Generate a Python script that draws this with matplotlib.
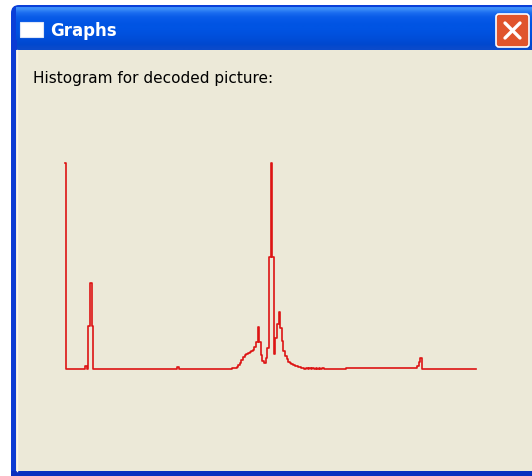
#!/usr/bin/env python3
"""
Histogram window recreation: XP-style "Graphs" window with a 256-bin histogram.
"""
import numpy as np
import matplotlib
matplotlib.use('Agg')
import matplotlib.pyplot as plt
from matplotlib.patches import Rectangle, FancyBboxPatch

# Histogram data: non-zero bins (grey level) and heights (relative counts)
n_bins = 256
peak_bins = [0, 13, 15, 16, 17, 70,
             104, 105, 106, 107, 108, 109, 110, 111, 112, 113, 114, 115, 116,
             117, 118, 119, 120, 121, 122, 123, 124, 125, 126, 127, 128, 129,
             130, 131, 132, 133, 134, 135, 136, 137, 138, 139, 140, 141, 142,
             143, 144, 145, 146, 147, 148, 150, 152, 154, 156, 158, 160,
             219, 220, 221]
peak_vals = [206, 3, 43, 86, 43, 2,
             1, 1, 1, 2, 4, 6, 9, 12, 14, 15, 16, 17, 18,
             19, 22, 27, 42, 27, 14, 8, 6, 11, 21, 112, 206, 112,
             15, 31, 45, 57, 41, 28, 18, 13, 10, 7, 6, 5, 4,
             3, 3, 2, 2, 1, 1, 1, 1, 1, 1, 1, 1,
             3, 7, 11]
# low plateau of very small counts in the upper range
low_bins = list(range(175, 219))
low_vals = [0.5] * len(low_bins)

title = 'Graphs'
label = 'Histogram for decoded picture:'

W, H = 532, 476
fig = plt.figure(figsize=(W / 100, H / 100), dpi=100)
fig.patch.set_facecolor('white')

# chrome axes in pixel coordinates
bg = fig.add_axes([0, 0, 1, 1])
bg.set_xlim(0, W)
bg.set_ylim(H, 0)
bg.axis('off')

# window frame (blue) with rounded top
bg.add_patch(FancyBboxPatch((14, 8), 540, 480, boxstyle='round,pad=3,rounding_size=8',
                            fc='#0A3FD8', ec='none'))
# title bar gradient
grad = np.array(['#3C8EF8', '#1A6CF0', '#0A5CE8', '#0457E6', '#0054E3', '#0054E3',
                 '#0052E0', '#004FDB', '#004CD6', '#0048CF', '#0A4ACB'])
rgb = np.array([matplotlib.colors.to_rgb(c) for c in grad])[:, None, :]
bg.imshow(rgb, extent=[16, 540, 50, 7], aspect='auto', interpolation='bilinear', zorder=1)
# side and bottom borders
bg.add_patch(Rectangle((11, 40), 6, 436, fc='#0B3BD3', ec='none', zorder=2))
bg.add_patch(Rectangle((11, 471), 540, 6, fc='#0A2FBF', ec='none', zorder=2))
# client area
bg.add_patch(Rectangle((16, 50), 530, 421, fc='#ECE9D8', ec='none', zorder=3))
bg.plot([17, 17], [50, 471], color='#F6F4EC', lw=1, zorder=3)

# title icon and text
bg.add_patch(Rectangle((20, 22), 23, 15, fc='white', ec='#DDE6F8', lw=0.8, zorder=4))
bg.text(50, 31, title, color='white', fontsize=12, fontweight='bold',
        va='center', ha='left', zorder=5)

# close button
bg.add_patch(FancyBboxPatch((497, 15), 31, 31, boxstyle='round,pad=1,rounding_size=3',
                            fc='#E0542C', ec='white', lw=1.2, zorder=4))
bg.plot([505, 520], [23, 38], color='white', lw=2.4, zorder=5, solid_capstyle='round')
bg.plot([505, 520], [38, 23], color='white', lw=2.4, zorder=5, solid_capstyle='round')

# caption, scaled to span the same width as the original label
t = bg.text(33, 78, label, color='black', fontsize=10, va='center', ha='left', zorder=5)
fig.canvas.draw()
w = t.get_window_extent().width
t.set_fontsize(10 * 239 / w)

# histogram
counts = np.zeros(n_bins)
counts[peak_bins] = peak_vals
counts[low_bins] = low_vals
x = np.arange(n_bins)

x0, x1 = 65, 476
y0, y1 = 368.5, 163
ax = fig.add_axes([x0 / W, (H - y0) / H, (x1 - x0) / W, (y0 - y1) / H])
ax.patch.set_alpha(0)
ax.plot(x, counts, color='#DD1414', lw=1.2, drawstyle='steps-mid', clip_on=False)
ax.set_xlim(0, n_bins - 1)
ax.set_ylim(0, counts.max())
ax.axis('off')

fig.savefig('out.png', dpi=100)
